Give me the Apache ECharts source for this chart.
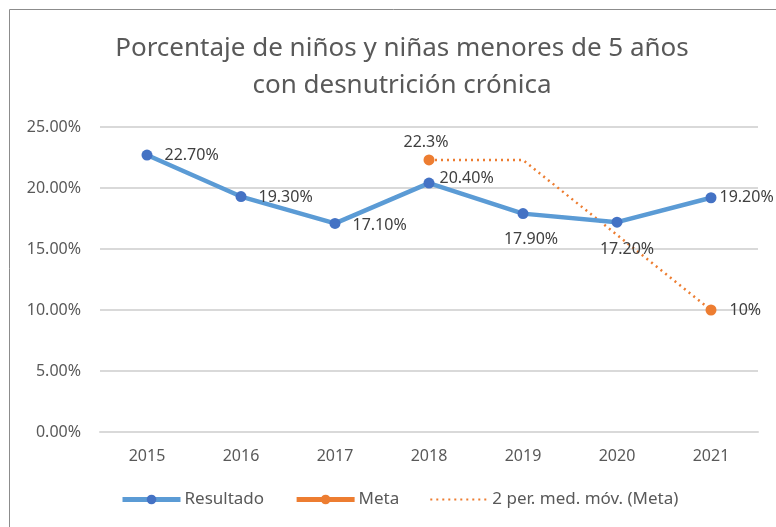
<!DOCTYPE html>
<html>
<head>
<meta charset="utf-8">
<script src="https://cdn.jsdelivr.net/npm/echarts@6/dist/echarts.min.js"></script>
<style>
  html, body { margin: 0; padding: 0; background: #fff; }
  #chart { width: 776px; height: 527px; }
</style>
</head>
<body>
<div id="chart"></div>
<script>
var years = ['2015', '2016', '2017', '2018', '2019', '2020', '2021'];
var resultado = [22.7, 19.3, 17.1, 20.4, 17.9, 17.2, 19.2];
var meta = [null, null, null, 22.3, null, null, 10];
var mediaMovil = [null, null, null, 22.3, 22.3, 16.15, 10];
var yTicks = { min: 0, max: 25, interval: 5 };

var chart = echarts.init(document.getElementById('chart'));
var txt = '#595959';
var fnt = 'Noto Sans';

// posiciones de etiquetas como en el original
var resPos = ['right', 'right', 'right', 'right', 'bottom', 'bottom', 'right'];
var resOff = [[0, 0], [0, 1], [0, 2], [-7, -5], [8, 0], [10, 2], [-9, 0]];

var option = {
  textStyle: { fontFamily: fnt },
  title: {
    text: 'Porcentaje de niños y niñas menores de 5 años\ncon desnutrición crónica',
    left: 397,
    textAlign: 'center',
    top: 25,
    textStyle: { fontFamily: fnt, fontSize: 26, fontWeight: 'normal', color: txt, lineHeight: 37 }
  },
  graphic: [{
    type: 'rect',
    shape: { x: 9.5, y: 9.5, width: 800, height: 600 },
    style: { fill: 'none', stroke: '#8c8c8c', lineWidth: 1 },
    silent: true
  }],
  grid: { left: 100, right: 18, top: 127, bottom: 95 },
  legend: {
    left: 120,
    top: 491,
    padding: 0,
    itemWidth: 58,
    itemHeight: 12,
    itemGap: 30,
    textStyle: { fontFamily: fnt, fontSize: 17, color: txt, padding: [0, 0, 0, -1] },
    data: [
      { name: 'Resultado', lineStyle: { width: 5 } },
      { name: 'Meta', lineStyle: { width: 5 } },
      { name: '2 per. med. móv. (Meta)', itemStyle: { opacity: 0 } }
    ]
  },
  xAxis: {
    type: 'category',
    data: years,
    axisLine: { lineStyle: { color: '#d9d9d9', width: 2 } },
    axisTick: { show: false },
    axisLabel: { color: txt, fontSize: 16, margin: 16, fontFamily: fnt }
  },
  yAxis: {
    type: 'value',
    min: yTicks.min,
    max: yTicks.max,
    interval: yTicks.interval,
    axisLine: { show: false },
    axisTick: { show: false },
    splitLine: { lineStyle: { color: '#d9d9d9', width: 2 } },
    axisLabel: {
      color: txt, fontSize: 16, margin: 19, fontFamily: fnt,
      formatter: function (v) { return v.toFixed(2) + '%'; }
    }
  },
  series: [
    {
      name: 'Resultado',
      type: 'line',
      data: resultado.map(function (v, i) {
        return {
          value: v,
          label: { position: resPos[i], offset: resOff[i] }
        };
      }),
      symbol: 'circle',
      symbolSize: 11,
      lineStyle: { color: '#5b9bd5', width: 4.5 },
      itemStyle: { color: '#4472c4' },
      label: {
        show: true,
        color: '#404040',
        fontSize: 16,
        fontFamily: fnt,
        distance: 12,
        formatter: function (p) { return p.value.toFixed(2) + '%'; }
      },
      z: 3
    },
    {
      name: 'Meta',
      type: 'line',
      data: meta.map(function (v, i) {
        if (v === null) return null;
        return {
          value: v,
          label: i === 3 ? { position: 'top', offset: [-3, 1] } : { position: 'right', distance: 13 }
        };
      }),
      symbol: 'circle',
      symbolSize: 11,
      connectNulls: false,
      lineStyle: { color: '#ed7d31', width: 4.5 },
      itemStyle: { color: '#ed7d31' },
      label: {
        show: true,
        color: '#404040',
        fontSize: 16,
        fontFamily: fnt,
        formatter: function (p) { return p.value + '%'; }
      },
      z: 4
    },
    {
      name: '2 per. med. móv. (Meta)',
      type: 'line',
      data: mediaMovil,
      symbol: 'none',
      lineStyle: { color: '#ed7d31', width: 2.5, type: [2, 4] },
      itemStyle: { color: '#ed7d31' },
      z: 2
    }
  ]
};

chart.setOption(option);
</script>
</body>
</html>
